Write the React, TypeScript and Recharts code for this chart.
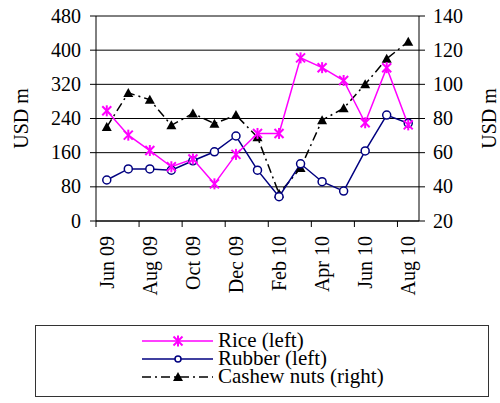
import { LineChart, Line, XAxis, YAxis, CartesianGrid } from "recharts";

const months = [
  "Jun 09", "Jul 09", "Aug 09", "Sep 09", "Oct 09", "Nov 09", "Dec 09",
  "Jan 10", "Feb 10", "Mar 10", "Apr 10", "May 10", "Jun 10", "Jul 10", "Aug 10",
];
// left axis, USD m
const rice = [258, 201, 165, 127, 145, 87, 156, 205, 205, 382, 359, 329, 230, 359, 225];
const rubber = [96, 122, 122, 119, 141, 162, 199, 119, 57, 134, 92, 70, 164, 248, 229];
// right axis, USD m
const cashew = [75, 95, 91, 76, 83, 77, 82, 69, 36, 51, 79, 86, 100, 115, 125];

const leftTicks = [0, 80, 160, 240, 320, 400, 480];
const rightTicks = [20, 40, 60, 80, 100, 120, 140];

const data = months.map((m, i) => ({
  month: m,
  rice: rice[i],
  rubber: rubber[i],
  cashew: cashew[i],
}));

const FONT = "Liberation Serif";
const MAGENTA = "#ff00ff";
const NAVY = "#000080";
const DASHDOT = "9 4 2 4";

function MonthTick(props: any) {
  const { x, y, payload, width } = props;
  const half = (width || 323) / months.length / 2;
  return (
    <g>
      <line x1={x - half} x2={x - half} y1={y - 6} y2={y} stroke="#000" strokeWidth={1} />
      <text
        x={x}
        y={y + 9}
        transform={`rotate(-90 ${x} ${y + 9})`}
        textAnchor="end"
        dy="0.35em"
        fontFamily={FONT}
        fontSize={20}
        fill="#000"
      >
        {payload.value}
      </text>
    </g>
  );
}

function ValueTick(props: any) {
  const { x, y, payload, textAnchor } = props;
  return (
    <text x={x} y={y} dy="0.33em" textAnchor={textAnchor} fontFamily={FONT} fontSize={20} fill="#000">
      {payload.value}
    </text>
  );
}

function AxisTitle({ viewBox, side }: any) {
  const { x, y, width, height } = viewBox;
  const bx = side === "left" ? x + 28 : x + width - 4;
  const cy = y + height / 2;
  return (
    <text
      x={bx}
      y={cy}
      transform={`rotate(-90 ${bx} ${cy})`}
      textAnchor="middle"
      fontFamily={FONT}
      fontSize={20}
      fill="#000"
    >
      USD m
    </text>
  );
}

const StarDot = (props: any) => {
  const { cx, cy } = props;
  if (cx == null || cy == null) return null;
  return (
    <g stroke={MAGENTA} strokeWidth={2}>
      <line x1={cx - 4.5} y1={cy - 4.5} x2={cx + 4.5} y2={cy + 4.5} />
      <line x1={cx - 4.5} y1={cy + 4.5} x2={cx + 4.5} y2={cy - 4.5} />
      <line x1={cx} y1={cy - 5.5} x2={cx} y2={cy + 5.5} />
    </g>
  );
};

const TriDot = (props: any) => {
  const { cx, cy } = props;
  if (cx == null || cy == null) return null;
  return <path d={`M${cx},${cy - 5} L${cx + 5},${cy + 4} L${cx - 5},${cy + 4} Z`} fill="#000" />;
};

function LegendBox() {
  const rows = [
    { label: "Rice (left)", kind: "rice" },
    { label: "Rubber (left)", kind: "rubber" },
    { label: "Cashew nuts (right)", kind: "cashew" },
  ];
  return (
    <svg width={454} height={72} style={{ position: "absolute", left: 35, top: 325 }}>
      <rect x={0.5} y={0.5} width={453} height={71} fill="#fff" stroke="#333" />
      {rows.map((r, i) => {
        const ly = 16 + i * 18;
        const mx = 143;
        return (
          <g key={r.kind}>
            {r.kind === "rice" && (
              <>
                <line x1={107} x2={178} y1={ly} y2={ly} stroke={MAGENTA} strokeWidth={1.5} />
                <StarDot cx={mx} cy={ly} />
              </>
            )}
            {r.kind === "rubber" && (
              <>
                <line x1={107} x2={178} y1={ly} y2={ly} stroke={NAVY} strokeWidth={1.5} />
                <circle cx={mx} cy={ly} r={3} fill="#fff" stroke={NAVY} strokeWidth={1.5} />
              </>
            )}
            {r.kind === "cashew" && (
              <>
                <line x1={107} x2={178} y1={ly} y2={ly} stroke="#000" strokeWidth={1.5} strokeDasharray={DASHDOT} />
                <TriDot cx={mx} cy={ly} />
              </>
            )}
            <text x={183} y={ly + 6} fontFamily={FONT} fontSize={21} fill="#000">
              {r.label}
            </text>
          </g>
        );
      })}
    </svg>
  );
}

export default function App() {
  return (
    <div
      style={{
        position: "absolute",
        left: 0,
        top: 0,
        width: 500,
        height: 403,
        background: "#fff",
        fontFamily: FONT,
      }}
    >
      <LineChart width={500} height={310} data={data} margin={{ top: 16, right: 0, bottom: 0, left: 0 }}>
        <CartesianGrid vertical={false} stroke="#000" yAxisId="left" />
        <XAxis
          dataKey="month"
          scale="band"
          interval={1}
          height={89}
          tickSize={6}
          tickMargin={0}
          tickLine={false}
          axisLine={{ stroke: "#000" }}
          tick={<MonthTick />}
        />
        <YAxis
          yAxisId="left"
          width={96}
          domain={[0, 480]}
          ticks={leftTicks}
          interval={0}
          tickSize={6}
          tickMargin={9}
          axisLine={{ stroke: "#000" }}
          tickLine={{ stroke: "#000" }}
          tick={<ValueTick />}
          label={<AxisTitle side="left" />}
        />
        <YAxis
          yAxisId="right"
          orientation="right"
          width={81}
          domain={[20, 140]}
          ticks={rightTicks}
          interval={0}
          tickSize={6}
          tickMargin={8}
          axisLine={{ stroke: "#000" }}
          tickLine={{ stroke: "#000" }}
          tick={<ValueTick />}
          label={<AxisTitle side="right" />}
        />
        <Line
          yAxisId="right"
          dataKey="cashew"
          stroke="#000"
          strokeWidth={1.5}
          strokeDasharray={DASHDOT}
          dot={<TriDot />}
          isAnimationActive={false}
        />
        <Line
          yAxisId="left"
          dataKey="rubber"
          stroke={NAVY}
          strokeWidth={1.5}
          dot={{ r: 4, fill: "#fff", stroke: NAVY, strokeWidth: 1.5 }}
          isAnimationActive={false}
        />
        <Line
          yAxisId="left"
          dataKey="rice"
          stroke={MAGENTA}
          strokeWidth={1.5}
          dot={<StarDot />}
          isAnimationActive={false}
        />
      </LineChart>
      <LegendBox />
    </div>
  );
}
